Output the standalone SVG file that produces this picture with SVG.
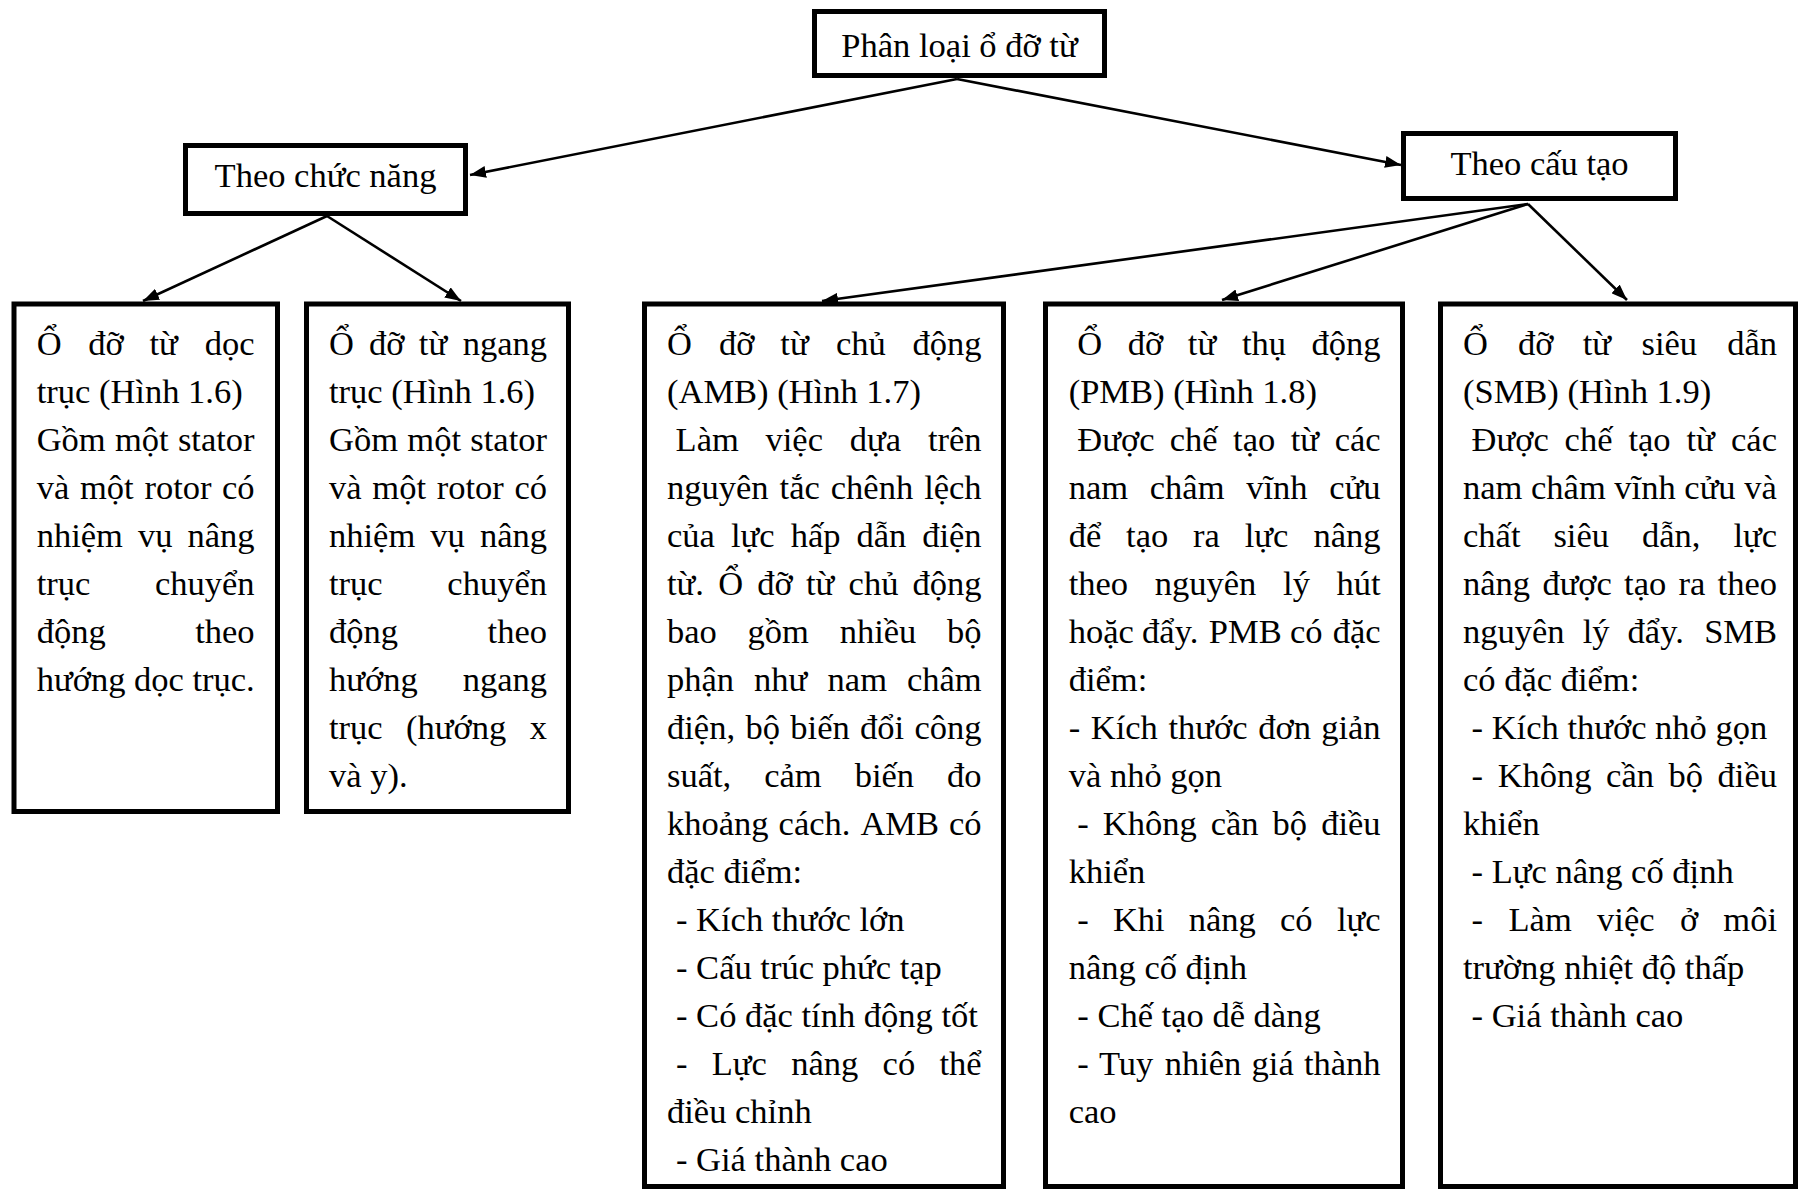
<svg xmlns="http://www.w3.org/2000/svg" width="1798" height="1189" viewBox="0 0 1798 1189">
<style>
text { font-family: "Liberation Serif", "Times New Roman", serif; font-size: 34.5px; fill: #000; }
.e { text-anchor: end; }
.c { text-anchor: middle; }
.box { fill: #fff; stroke: #000; stroke-width: 5; }
.conn { stroke: #000; stroke-width: 2.6; fill: none; marker-end: url(#ah); }
</style>
<defs>
<marker id="ah" markerUnits="userSpaceOnUse" markerWidth="16" markerHeight="12" viewBox="0 0 16 12" refX="16" refY="6" orient="auto">
<path d="M0,0 L16,6 L0,12 z" fill="#000"/>
</marker>
</defs>
<rect width="1798" height="1189" fill="#fff"/>

<g id="root">
<rect class="box" x="814.5" y="11.5" width="290" height="64"/>
<text class="c" x="959.5" y="57">Phân loại ổ đỡ từ</text>
</g>

<g id="func">
<rect class="box" x="185.5" y="145.5" width="280" height="68"/>
<text class="c" x="325.5" y="187">Theo chức năng</text>
</g>

<g id="struct">
<rect class="box" x="1403.5" y="133.5" width="272" height="65"/>
<text class="c" x="1539.5" y="175">Theo cấu tạo</text>
</g>

<g id="axial">
<rect class="box" x="14" y="304" width="263.5" height="507.5"/>
<text y="355"><tspan x="36.7">Ổ</tspan><tspan x="88.3">đỡ</tspan><tspan x="149.5">từ</tspan><tspan x="254.6" class="e">dọc</tspan></text>
<text x="36.7" y="403">trục (Hình 1.6)</text>
<text y="451"><tspan x="36.7">Gồm</tspan><tspan x="115">một</tspan><tspan x="254.6" class="e">stator</tspan></text>
<text y="499"><tspan x="36.7">và</tspan><tspan x="80">một</tspan><tspan x="144.4">rotor</tspan><tspan x="254.6" class="e">có</tspan></text>
<text y="547"><tspan x="36.7">nhiệm</tspan><tspan x="138">vụ</tspan><tspan x="254.6" class="e">nâng</tspan></text>
<text y="595"><tspan x="36.7">trục</tspan><tspan x="254.6" class="e">chuyển</tspan></text>
<text y="643"><tspan x="36.7">động</tspan><tspan x="254.6" class="e">theo</tspan></text>
<text x="36.7" y="691">hướng dọc trục.</text>
</g>

<g id="radial">
<rect class="box" x="306.5" y="304" width="262" height="507.5"/>
<text y="355"><tspan x="329">Ổ</tspan><tspan x="369.1">đỡ</tspan><tspan x="418.8">từ</tspan><tspan x="547" class="e">ngang</tspan></text>
<text x="329" y="403">trục (Hình 1.6)</text>
<text y="451"><tspan x="329">Gồm</tspan><tspan x="407.3">một</tspan><tspan x="547" class="e">stator</tspan></text>
<text y="499"><tspan x="329">và</tspan><tspan x="372.3">một</tspan><tspan x="436.7">rotor</tspan><tspan x="547" class="e">có</tspan></text>
<text y="547"><tspan x="329">nhiệm</tspan><tspan x="430.3">vụ</tspan><tspan x="547" class="e">nâng</tspan></text>
<text y="595"><tspan x="329">trục</tspan><tspan x="547" class="e">chuyển</tspan></text>
<text y="643"><tspan x="329">động</tspan><tspan x="547" class="e">theo</tspan></text>
<text y="691"><tspan x="329">hướng</tspan><tspan x="547" class="e">ngang</tspan></text>
<text y="739"><tspan x="329">trục</tspan><tspan x="406.1">(hướng</tspan><tspan x="547" class="e">x</tspan></text>
<text x="329" y="787">và y).</text>
</g>

<g id="amb">
<rect class="box" x="644.5" y="304" width="359" height="882.5"/>
<text y="355"><tspan x="667">Ổ</tspan><tspan x="718.9">đỡ</tspan><tspan x="780.3">từ</tspan><tspan x="835.9">chủ</tspan><tspan x="981.6" class="e">động</tspan></text>
<text x="667" y="403">(AMB) (Hình 1.7)</text>
<text y="451"><tspan x="675.6">Làm</tspan><tspan x="765.5">việc</tspan><tspan x="849.7">dựa</tspan><tspan x="981.6" class="e">trên</tspan></text>
<text y="499"><tspan x="667">nguyên</tspan><tspan x="779.6">tắc</tspan><tspan x="830.8">chênh</tspan><tspan x="981.6" class="e">lệch</tspan></text>
<text y="547"><tspan x="667">của</tspan><tspan x="730.9">lực</tspan><tspan x="790.7">hấp</tspan><tspan x="856.5">dẫn</tspan><tspan x="981.6" class="e">điện</tspan></text>
<text y="595"><tspan x="667">từ.</tspan><tspan x="718.3">Ổ</tspan><tspan x="757.3">đỡ</tspan><tspan x="805.9">từ</tspan><tspan x="848.6">chủ</tspan><tspan x="981.6" class="e">động</tspan></text>
<text y="643"><tspan x="667">bao</tspan><tspan x="747.6">gồm</tspan><tspan x="839.7">nhiều</tspan><tspan x="981.6" class="e">bộ</tspan></text>
<text y="691"><tspan x="667">phận</tspan><tspan x="754.1">như</tspan><tspan x="827.6">nam</tspan><tspan x="981.6" class="e">châm</tspan></text>
<text y="739"><tspan x="667">điện,</tspan><tspan x="745.4">bộ</tspan><tspan x="790.3">biến</tspan><tspan x="860.1">đổi</tspan><tspan x="981.6" class="e">công</tspan></text>
<text y="787"><tspan x="667">suất,</tspan><tspan x="764.2">cảm</tspan><tspan x="854.7">biến</tspan><tspan x="981.6" class="e">đo</tspan></text>
<text y="835"><tspan x="667">khoảng</tspan><tspan x="778.6">cách.</tspan><tspan x="860.4">AMB</tspan><tspan x="981.6" class="e">có</tspan></text>
<text x="667" y="883">đặc điểm:</text>
<text x="676" y="931">- Kích thước lớn</text>
<text x="676" y="979">- Cấu trúc phức tạp</text>
<text x="676" y="1027">- Có đặc tính động tốt</text>
<text y="1075"><tspan x="676">-</tspan><tspan x="711.7">Lực</tspan><tspan x="791.3">nâng</tspan><tspan x="882.6">có</tspan><tspan x="981.6" class="e">thể</tspan></text>
<text x="667" y="1123">điều chỉnh</text>
<text x="676" y="1171">- Giá thành cao</text>
</g>

<g id="pmb">
<rect class="box" x="1045.5" y="304" width="357" height="882.5"/>
<text y="355"><tspan x="1077.3">Ổ</tspan><tspan x="1127.8">đỡ</tspan><tspan x="1187.8">từ</tspan><tspan x="1242">thụ</tspan><tspan x="1380.6" class="e">động</tspan></text>
<text x="1068.7" y="403">(PMB) (Hình 1.8)</text>
<text y="451"><tspan x="1077.3">Được</tspan><tspan x="1169.8">chế</tspan><tspan x="1233.1">tạo</tspan><tspan x="1290.7">từ</tspan><tspan x="1380.6" class="e">các</tspan></text>
<text y="499"><tspan x="1068.7">nam</tspan><tspan x="1149.8">châm</tspan><tspan x="1246.2">vĩnh</tspan><tspan x="1380.6" class="e">cửu</tspan></text>
<text y="547"><tspan x="1068.7">để</tspan><tspan x="1126.1">tạo</tspan><tspan x="1193.1">ra</tspan><tspan x="1244.7">lực</tspan><tspan x="1380.6" class="e">nâng</tspan></text>
<text y="595"><tspan x="1068.7">theo</tspan><tspan x="1154.8">nguyên</tspan><tspan x="1283.1">lý</tspan><tspan x="1380.6" class="e">hút</tspan></text>
<text y="643"><tspan x="1068.7">hoặc</tspan><tspan x="1142.1">đẩy.</tspan><tspan x="1208.8">PMB</tspan><tspan x="1290">có</tspan><tspan x="1380.6" class="e">đặc</tspan></text>
<text x="1068.7" y="691">điểm:</text>
<text y="739"><tspan x="1068.7">-</tspan><tspan x="1090.8">Kích</tspan><tspan x="1168.5">thước</tspan><tspan x="1258.2">đơn</tspan><tspan x="1380.6" class="e">giản</tspan></text>
<text x="1068.7" y="787">và nhỏ gọn</text>
<text y="835"><tspan x="1077.3">-</tspan><tspan x="1102.8">Không</tspan><tspan x="1210.7">cần</tspan><tspan x="1272.6">bộ</tspan><tspan x="1380.6" class="e">điều</tspan></text>
<text x="1068.7" y="883">khiển</text>
<text y="931"><tspan x="1077.3">-</tspan><tspan x="1112.9">Khi</tspan><tspan x="1188.8">nâng</tspan><tspan x="1280">có</tspan><tspan x="1380.6" class="e">lực</tspan></text>
<text x="1068.7" y="979">nâng cố định</text>
<text x="1077.3" y="1027">- Chế tạo dễ dàng</text>
<text y="1075"><tspan x="1077.3">-</tspan><tspan x="1099">Tuy</tspan><tspan x="1164.7">nhiên</tspan><tspan x="1251.6">giá</tspan><tspan x="1380.6" class="e">thành</tspan></text>
<text x="1068.7" y="1123">cao</text>
</g>

<g id="smb">
<rect class="box" x="1440.5" y="304" width="355" height="882.5"/>
<text y="355"><tspan x="1463">Ổ</tspan><tspan x="1518">đỡ</tspan><tspan x="1582.7">từ</tspan><tspan x="1641.5">siêu</tspan><tspan x="1777" class="e">dẫn</tspan></text>
<text x="1463" y="403">(SMB) (Hình 1.9)</text>
<text y="451"><tspan x="1471.6">Được</tspan><tspan x="1564.6">chế</tspan><tspan x="1628.4">tạo</tspan><tspan x="1686.5">từ</tspan><tspan x="1777" class="e">các</tspan></text>
<text x="1463" y="499">nam châm vĩnh cửu và</text>
<text y="547"><tspan x="1463">chất</tspan><tspan x="1553.4">siêu</tspan><tspan x="1641.9">dẫn,</tspan><tspan x="1777" class="e">lực</tspan></text>
<text y="595"><tspan x="1463">nâng</tspan><tspan x="1542.4">được</tspan><tspan x="1624.1">tạo</tspan><tspan x="1678.6">ra</tspan><tspan x="1777" class="e">theo</tspan></text>
<text y="643"><tspan x="1463">nguyên</tspan><tspan x="1582.7">lý</tspan><tspan x="1627.6">đẩy.</tspan><tspan x="1777" class="e">SMB</tspan></text>
<text x="1463" y="691">có đặc điểm:</text>
<text x="1471.6" y="739">- Kích thước nhỏ gọn</text>
<text y="787"><tspan x="1471.6">-</tspan><tspan x="1497.7">Không</tspan><tspan x="1606.1">cần</tspan><tspan x="1668.6">bộ</tspan><tspan x="1777" class="e">điều</tspan></text>
<text x="1463" y="835">khiển</text>
<text x="1471.6" y="883">- Lực nâng cố định</text>
<text y="931"><tspan x="1471.6">-</tspan><tspan x="1508.5">Làm</tspan><tspan x="1597.1">việc</tspan><tspan x="1680">ở</tspan><tspan x="1777" class="e">môi</tspan></text>
<text x="1463" y="979">trường nhiệt độ thấp</text>
<text x="1471.6" y="1027">- Giá thành cao</text>
</g>

<g id="connectors">
<path class="conn" d="M957,79 L470,175"/>
<path class="conn" d="M957,79 L1401,165"/>
<path class="conn" d="M327,216 L143,301"/>
<path class="conn" d="M327,216 L461,301"/>
<path class="conn" d="M1528,204 L822,301"/>
<path class="conn" d="M1528,204 L1222,300"/>
<path class="conn" d="M1528,204 L1627,300"/>
</g>
</svg>
